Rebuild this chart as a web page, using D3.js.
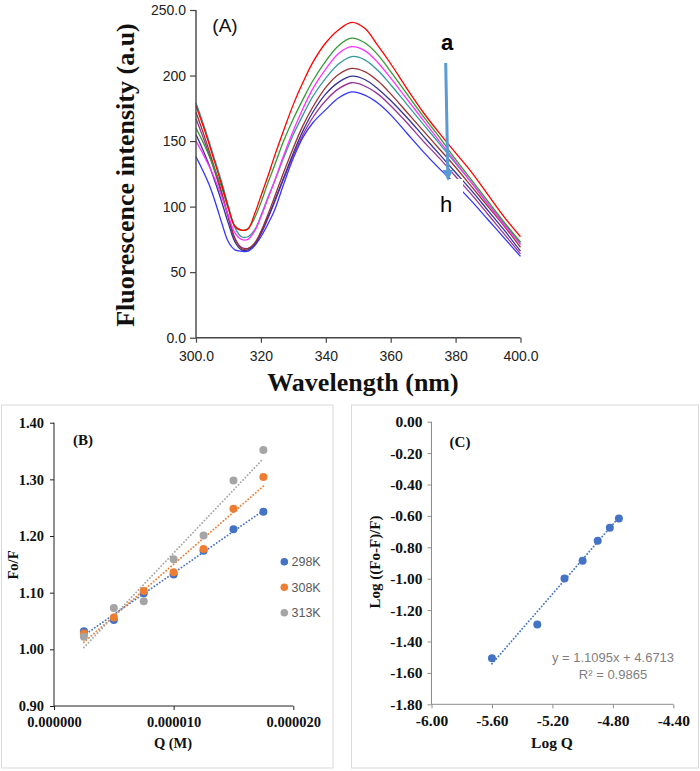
<!DOCTYPE html>
<html><head><meta charset="utf-8">
<script src="https://cdn.jsdelivr.net/npm/d3@7"></script>
<style>
html,body{margin:0;padding:0;background:#fff;}
svg{display:block;}
</style></head>
<body>
<svg id="c" width="700" height="771"></svg>
<script>
// ---------- Panel A data ----------
const wavelengths = [300,302,304,306,308,310,312,314,316,318,320,322,324,327,330,333,336,340,344,348,352,356,360,365,370,375,380,385,390,395,400];
const curveA = [177,163,148,132,116,99,85,82,83,94,108,122,137,158,178,195,210,225,235,240.5,236,223,209,190,172,156,141,126,109,92,77];
const curveB = [160,150,139,127,114,98,85,82,83,91,103,117,130,150,167,182,196,211,223,228.5,225,216,203,186,169,153,136,120,104,88,73];
const curveC = [150,141,131,120,107,93,80,75,75,81,92,105,118,139,158,175,190,205,217,222,219,210,198,182,166,150,134,118,102,86,71];
const curveD = [179,165,150,134,118,100,84,77,77,82,93,106,118,137,155,170,184,198,209,214.5,212,204,193,178,163,148,133,118,102,87,72];
const curveE = [172,158,143,127,110,92,76,68,68,72,81,93,106,126,145,162,176,191,201,205.5,203,196,186,172,158,144,130,115,100,85,69];
const curveF = [155,144,132,118,103,87,73,67,67,71,80,91,103,122,141,158,172,186,195,199.5,197,190,181,168,154,140,126,112,97,82,66];
const curveG = [167,154,140,125,109,91,75,69,68,71,79,90,102,121,139,155,168,181,190,194.5,192,186,177,164,150,137,123,109,94,79,64];
const curveH = [138,128,117,103,87,73,67,66,66,70,77,86,96,117,137,153,164,174,183,187.5,185,179,170,156,142,129,117,104,90,76,62];
const curveColors = ["#FF0000","#339933","#FF33FF","#339999","#993333","#333399","#993399","#3333FF"];
const aYTicks = [0,50,100,150,200,250];
const aYLabels = ["0.0","50","100","150","200","250.0"];
const aXTicks = [300,320,340,360,380,400];
const aXLabels = ["300.0","320","340","360","380","400.0"];

// ---------- Panel B data ----------
const concQ = [0.0000025,0.000005,0.0000075,0.00001,0.0000125,0.000015,0.0000175];
const fo298 = [1.032,1.052,1.099,1.132,1.174,1.212,1.243];
const fo308 = [1.028,1.056,1.103,1.136,1.177,1.248,1.304];
const fo313 = [1.022,1.073,1.085,1.159,1.201,1.298,1.352];
const bSeriesNames = ["298K","308K","313K"];
const bColors = ["#4472C4","#ED7D31","#A5A5A5"];
const bXTicks = [0,0.00001,0.00002];
const bXLabels = ["0.000000","0.000010","0.000020"];
const bYTicks = [0.9,1.0,1.1,1.2,1.3,1.4];

// ---------- Panel C data ----------
const logQ = [-5.60,-5.30,-5.12,-5.00,-4.90,-4.82,-4.76];
const logF = [-1.507,-1.291,-0.998,-0.885,-0.758,-0.675,-0.616];
const cSlope = 1.1095, cIntercept = 4.6713;
const cEquation = "y = 1.1095x + 4.6713";
const cR2 = "R² = 0.9865";
const cXTicks = [-6.0,-5.6,-5.2,-4.8,-4.4];
const cYTicks = [0,-0.2,-0.4,-0.6,-0.8,-1.0,-1.2,-1.4,-1.6,-1.8];

const svg = d3.select("#c");
const serif = "'Liberation Serif','Times New Roman',serif";
const sans = "'Liberation Sans',Arial,sans-serif";

// ================= Panel A =================
const xA = d3.scaleLinear().domain([300,400]).range([196,520.5]);
const yA = d3.scaleLinear().domain([0,250]).range([337.7,10]);
const gA = svg.append("g");
const series = [curveA,curveB,curveC,curveD,curveE,curveF,curveG,curveH];
const lineA = d3.line().x((d,i)=>xA(wavelengths[i])).y(d=>yA(d)).curve(d3.curveCatmullRom);
series.slice().reverse().forEach((s,k)=>{
  const idx = series.length-1-k;
  gA.append("path").attr("d",lineA(s)).attr("fill","none")
    .attr("stroke",curveColors[idx]).attr("stroke-width",1.3);
});
// white box behind h
gA.append("rect").attr("x",437).attr("y",179).attr("width",26).attr("height",36).attr("fill","#fff");

const axYA = gA.append("g").attr("transform","translate(196,0)")
  .call(d3.axisLeft(yA).tickValues(aYTicks).tickFormat((d,i)=>aYLabels[i]).tickSize(6).tickPadding(4));
const axXA = gA.append("g").attr("transform","translate(0,337.7)")
  .call(d3.axisBottom(xA).tickValues(aXTicks).tickFormat((d,i)=>aXLabels[i]).tickSize(5).tickPadding(8));
[axYA,axXA].forEach(a=>{
  a.select(".domain").attr("stroke","#444").attr("stroke-width",1.4);
  a.selectAll(".tick line").attr("stroke","#444").attr("stroke-width",1.2);
  a.selectAll("text").attr("font-family",sans).attr("font-size",14).attr("fill","#222");
});
axYA.select(".domain").attr("d","M0,337.7V10");
axXA.select(".domain").attr("d","M196,0H520.5");

gA.append("text").attr("transform","translate(134,175) rotate(-90)").attr("text-anchor","middle")
  .attr("font-family",serif).attr("font-weight","bold").attr("font-size",26).attr("fill","#111")
  .text("Fluorescence intensity (a.u)");
gA.append("text").attr("x",363).attr("y",391).attr("text-anchor","middle")
  .attr("font-family",serif).attr("font-weight","bold").attr("font-size",26).attr("fill","#111")
  .text("Wavelength (nm)");
gA.append("text").attr("x",225).attr("y",32).attr("text-anchor","middle")
  .attr("font-family",sans).attr("font-size",19).attr("fill","#111").text("(A)");
// arrow
gA.append("line").attr("x1",445.7).attr("y1",63).attr("x2",447.8).attr("y2",172)
  .attr("stroke","#5B9BD5").attr("stroke-width",3);
gA.append("path").attr("d","M442.5,170 L453,170 L448,181 Z").attr("fill","#5B9BD5");
gA.append("text").attr("x",447).attr("y",50).attr("text-anchor","middle")
  .attr("font-family",sans).attr("font-weight","bold").attr("font-size",22).attr("fill","#000").text("a");
gA.append("text").attr("x",446).attr("y",212).attr("text-anchor","middle")
  .attr("font-family",sans).attr("font-size",22).attr("fill","#000").text("h");

// ================= Panel B =================
const gB = svg.append("g");
gB.append("rect").attr("x",1.5).attr("y",405).attr("width",331.5).attr("height",363)
  .attr("fill","none").attr("stroke","#d9d9d9").attr("stroke-width",1);
const xB = d3.scaleLinear().domain([0,0.00002]).range([54,293.3]);
const yB = d3.scaleLinear().domain([0.9,1.4]).range([706,422.7]);
const axYB = gB.append("g").attr("transform","translate(54,0)")
  .call(d3.axisLeft(yB).tickValues(bYTicks).tickFormat(d3.format(".2f")).tickSize(4).tickPadding(6));
const axXB = gB.append("g").attr("transform","translate(0,706)")
  .call(d3.axisBottom(xB).tickValues(bXTicks).tickFormat((d,i)=>bXLabels[i]).tickSize(4).tickPadding(7));
[axYB,axXB].forEach(a=>{
  a.select(".domain").attr("stroke","#222").attr("stroke-width",1);
  a.selectAll(".tick line").attr("stroke","#222");
  a.selectAll("text").attr("font-family",serif).attr("font-weight","bold").attr("font-size",14.5).attr("fill","#111");
});
axYB.select(".domain").attr("d","M0,706V422.7");
axXB.select(".domain").attr("d","M54,0H293.3");

const bData = [fo298,fo308,fo313];
function linreg(xs,ys){
  const n=xs.length, mx=d3.mean(xs), my=d3.mean(ys);
  let sxy=0,sxx=0; for(let i=0;i<n;i++){sxy+=(xs[i]-mx)*(ys[i]-my); sxx+=(xs[i]-mx)**2;}
  const m=sxy/sxx; return {m, b:my-m*mx};
}
bData.forEach((ys,k)=>{
  const r = linreg(concQ,ys);
  const x0=concQ[0], x1=concQ[concQ.length-1];
  gB.append("line").attr("x1",xB(x0)).attr("y1",yB(r.m*x0+r.b)).attr("x2",xB(x1)).attr("y2",yB(r.m*x1+r.b))
    .attr("stroke",bColors[k]).attr("stroke-width",1.8).attr("stroke-dasharray","0.1,3.2").attr("stroke-linecap","round");
});
bData.forEach((ys,k)=>{
  gB.selectAll(null).data(ys).enter().append("circle")
    .attr("cx",(d,i)=>xB(concQ[i])).attr("cy",d=>yB(d)).attr("r",4).attr("fill",bColors[k]);
});
const legY = [561.7,587.3,612.7];
bSeriesNames.forEach((nm,k)=>{
  gB.append("circle").attr("cx",284.3).attr("cy",legY[k]).attr("r",3.8).attr("fill",bColors[k]);
  gB.append("text").attr("x",291.5).attr("y",legY[k]).attr("dy","0.36em")
    .attr("font-family",sans).attr("font-size",12.5).attr("fill","#595959").text(nm);
});
gB.append("text").attr("x",83).attr("y",445).attr("text-anchor","middle")
  .attr("font-family",serif).attr("font-weight","bold").attr("font-size",15).attr("fill","#111").text("(B)");
gB.append("text").attr("x",173).attr("y",748).attr("text-anchor","middle")
  .attr("font-family",serif).attr("font-weight","bold").attr("font-size",14.5).attr("fill","#111").text("Q (M)");
gB.append("text").attr("transform","translate(18,565) rotate(-90)").attr("text-anchor","middle")
  .attr("font-family",serif).attr("font-weight","bold").attr("font-size",14.5).attr("fill","#111").text("Fo/F");

// ================= Panel C =================
const gC = svg.append("g");
gC.append("rect").attr("x",351.5).attr("y",405).attr("width",347).attr("height",363)
  .attr("fill","none").attr("stroke","#d9d9d9").attr("stroke-width",1);
const xC = d3.scaleLinear().domain([-6,-4.4]).range([431.5,673.3]);
const yC = d3.scaleLinear().domain([-1.8,0]).range([704.3,421.7]);
const axYC = gC.append("g").attr("transform","translate(431.5,0)")
  .call(d3.axisLeft(yC).tickValues(cYTicks).tickFormat(d3.format(".2f")).tickSize(4).tickPadding(5));
const axXC = gC.append("g").attr("transform","translate(0,704.3)")
  .call(d3.axisBottom(xC).tickValues(cXTicks).tickFormat(d3.format(".2f")).tickSize(4).tickPadding(7));
[axYC,axXC].forEach(a=>{
  a.select(".domain").attr("stroke","#8c8c8c").attr("stroke-width",1);
  a.selectAll(".tick line").attr("stroke","#8c8c8c");
  a.selectAll("text").attr("font-family",serif).attr("font-weight","bold").attr("font-size",15.5).attr("fill","#111");
});
axYC.select(".domain").attr("d","M0,704.3V421.7");
axXC.select(".domain").attr("d","M431.5,0H673.3");
gC.selectAll(".tick text").text(function(){return d3.select(this).text().replace("−","-");});

const cx0 = logQ[0], cx1 = logQ[logQ.length-1];
gC.append("line").attr("x1",xC(cx0)).attr("y1",yC(cSlope*cx0+cIntercept))
  .attr("x2",xC(cx1)).attr("y2",yC(cSlope*cx1+cIntercept))
  .attr("stroke","#4472C4").attr("stroke-width",1.8).attr("stroke-dasharray","0.1,3.2").attr("stroke-linecap","round");
gC.selectAll(null).data(logF).enter().append("circle")
  .attr("cx",(d,i)=>xC(logQ[i])).attr("cy",d=>yC(d)).attr("r",4).attr("fill","#4472C4");
gC.append("text").attr("x",613).attr("y",662).attr("text-anchor","middle")
  .attr("font-family",sans).attr("font-size",13).attr("fill","#7f7f7f").text(cEquation);
gC.append("text").attr("x",613).attr("y",678.5).attr("text-anchor","middle")
  .attr("font-family",sans).attr("font-size",13).attr("fill","#7f7f7f").text(cR2);
gC.append("text").attr("x",460).attr("y",447).attr("text-anchor","middle")
  .attr("font-family",serif).attr("font-weight","bold").attr("font-size",15).attr("fill","#111").text("(C)");
gC.append("text").attr("x",552).attr("y",748).attr("text-anchor","middle")
  .attr("font-family",serif).attr("font-weight","bold").attr("font-size",15.5).attr("fill","#111").text("Log Q");
gC.append("text").attr("transform","translate(380,562) rotate(-90)").attr("text-anchor","middle")
  .attr("font-family",serif).attr("font-weight","bold").attr("font-size",15).attr("fill","#111").text("Log ((Fo-F)/F)");
</script>
</body></html>
